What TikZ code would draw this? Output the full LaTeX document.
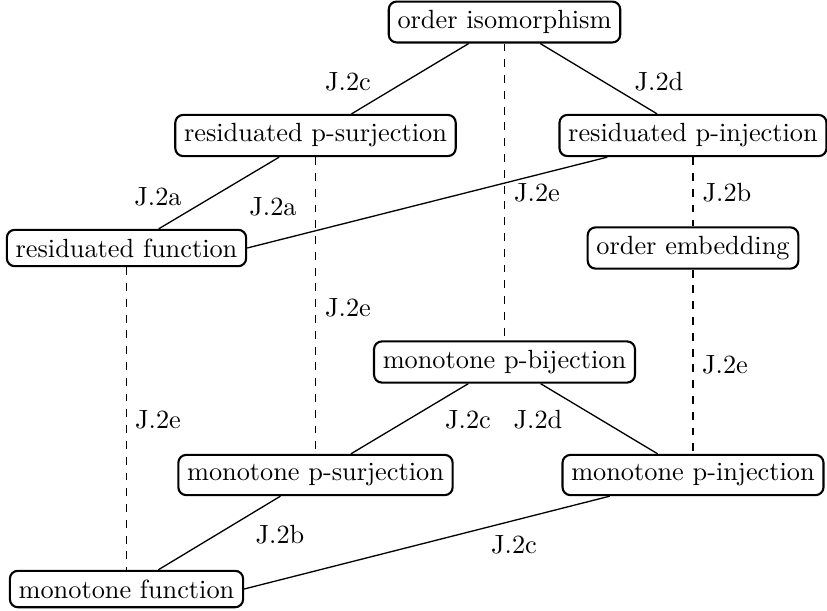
\documentclass[tikz,border=0pt]{standalone}
\begin{document}
\begin{tikzpicture}[x=0.38pt,y=-0.38pt,
  box/.style={draw, rounded corners=3pt, line width=0.8pt, inner sep=3.33pt, font=\normalsize},
  lbl/.style={inner sep=0pt, font=\normalsize},
  link/.style={line width=0.5pt},
  dlink/.style={line width=0.5pt, dashed}]
\useasboundingbox (0,0) rectangle (827,610);
\node[box] (oi)  at (504.5,22)   {order isomorphism};
\node[box] (rps) at (315.5,135.5) {residuated p-surjection};
\node[box] (rpi) at (693,135.5)  {residuated p-injection};
\node[box] (rf)  at (126.5,248)  {residuated function};
\node[box] (oe)  at (693,248)    {order embedding};
\node[box] (mpb) at (504.5,362)  {monotone p-bijection};
\node[box] (mps) at (315.5,475)  {monotone p-surjection};
\node[box] (mpi) at (693,475)    {monotone p-injection};
\node[box] (mf)  at (126.5,589)  {monotone function};

\draw[link] (oi) -- (rps);
\draw[link] (oi) -- (rpi);
\draw[dlink] (oi) -- (mpb);
\draw[link] (rps) -- (rf);
\draw[link] (rpi) -- (rf.east);
\draw[dlink] (rps) -- (mps);
\draw[dlink] (rpi) -- (oe);
\draw[dlink] (oe) -- (mpi);
\draw[dlink] (rf) -- (mf);
\draw[link] (mpb) -- (mps);
\draw[link] (mpb) -- (mpi);
\draw[link] (mps) -- (mf);
\draw[link] (mpi) -- (mf.east);

\node[lbl] (l1)  at (348,82)  {J.2c};
\node[lbl] (l2)  at (659,82)  {J.2d};
\node[lbl] (l3)  at (158,197) {J.2a};
\node[lbl] (l4)  at (273,207) {J.2a};
\node[lbl] (l5)  at (537,193) {J.2e};
\node[lbl] (l6)  at (727,193) {J.2b};
\node[lbl] (l7)  at (348,308) {J.2e};
\node[lbl] (l8)  at (158,420) {J.2e};
\node[lbl] (l9)  at (725,365) {J.2e};
\node[lbl] (l10) at (468,420) {J.2c};
\node[lbl] (l11) at (538,420) {J.2d};
\node[lbl] (l12) at (280,535) {J.2b};
\node[lbl] (l13) at (514,545) {J.2c};
\end{tikzpicture}
\end{document}
